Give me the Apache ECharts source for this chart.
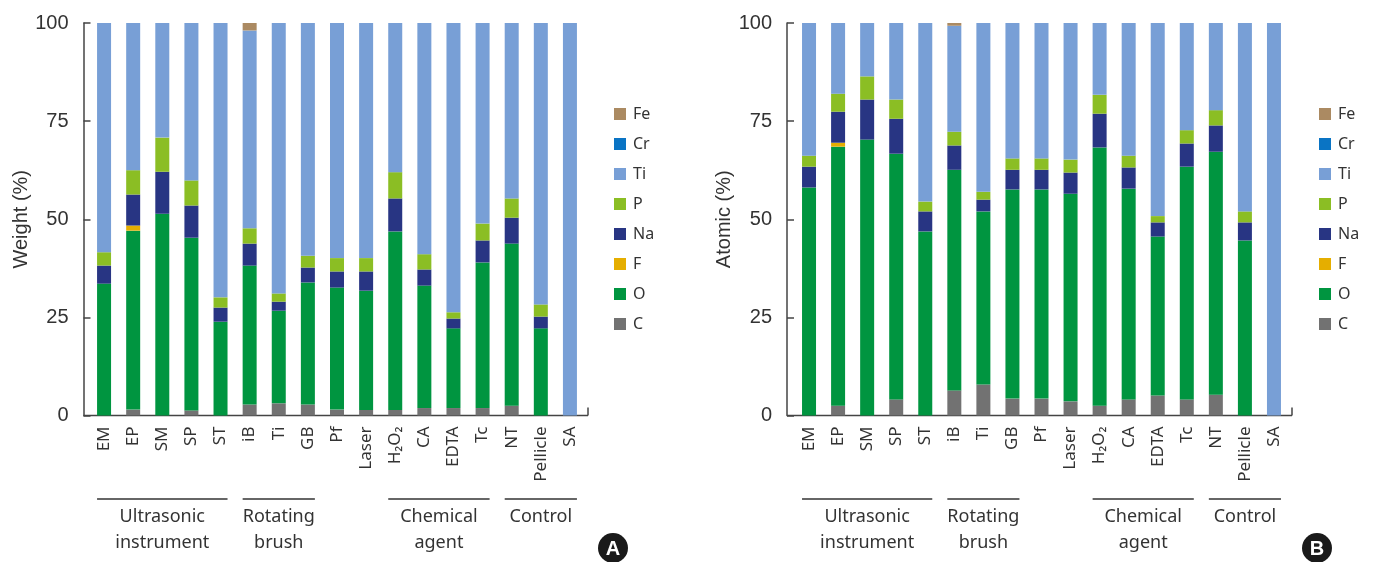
<!DOCTYPE html>
<html>
<head>
<meta charset="utf-8">
<script src="https://cdn.jsdelivr.net/npm/echarts@6/dist/echarts.min.js"></script>
<style>
html,body{margin:0;padding:0;background:#fff;}
#main{width:1377px;height:562px;}
</style>
</head>
<body>
<div id="main"></div>
<script>
const categories = ['EM','EP','SM','SP','ST','iB','Ti','GB','Pf','Laser','H\u2082O\u2082','CA','EDTA','Tc','NT','Pellicle','SA'];
const elements = ['C','O','F','Na','P','Ti','Cr','Fe'];           // stacking order, bottom to top
const legendOrder = ['Fe','Cr','Ti','P','Na','F','O','C'];
const yTicks = [0, 25, 50, 75, 100];

// Weight (%) — segment values per category
const weightC  = [0,   1.5, 0,   1.3, 0,   2.8, 3.1, 2.8, 1.5, 1.4, 1.4, 1.9, 1.9, 1.9, 2.5, 0,   0];
const weightO  = [33.6,45.6,51.4,44.0,23.9,35.4,23.6,31.1,31.1,30.4,45.5,31.2,20.3,37.1,41.3,22.2,0];
const weightF  = [0,   1.3, 0,   0,   0,   0,   0,   0,   0,   0,   0,   0,   0,   0,   0,   0,   0];
const weightNa = [4.6, 7.9, 10.7,8.2, 3.6, 5.6, 2.3, 3.8, 4.1, 4.9, 8.4, 4.1, 2.5, 5.6, 6.6, 3.0, 0];
const weightP  = [3.4, 6.2, 8.7, 6.4, 2.6, 3.9, 2.1, 3.0, 3.4, 3.4, 6.7, 3.9, 1.6, 4.3, 4.9, 3.1, 0];
const weightTi = [58.4,37.5,29.2,40.1,69.9,50.4,68.9,59.3,59.9,59.9,38.0,58.9,73.7,51.1,44.7,71.7,100];
const weightCr = [0,0,0,0,0,0,0,0,0,0,0,0,0,0,0,0,0];
const weightFe = [0,   0,   0,   0,   0,   1.9, 0,   0,   0,   0,   0,   0,   0,   0,   0,   0,   0];

// Atomic (%) — segment values per category
const atomicC  = [0,   2.5, 0,   4.1, 0,   6.4, 7.9, 4.3, 4.3, 3.6, 2.5, 4.1, 5.1, 4.1, 5.3, 0,   0];
const atomicO  = [58.1,66.0,70.3,62.6,46.9,56.2,44.1,53.3,53.3,52.9,65.8,53.7,40.5,59.3,61.9,44.6,0];
const atomicF  = [0,   1.0, 0,   0,   0,   0,   0,   0,   0,   0,   0,   0,   0,   0,   0,   0,   0];
const atomicNa = [5.3, 7.9, 10.2,8.9, 5.1, 6.2, 3.0, 5.0, 5.0, 5.4, 8.6, 5.4, 3.6, 5.9, 6.7, 4.6, 0];
const atomicP  = [2.8, 4.6, 5.9, 4.9, 2.5, 3.5, 2.0, 2.9, 2.9, 3.3, 4.8, 3.0, 1.6, 3.4, 3.9, 2.8, 0];
const atomicTi = [33.8,18.0,13.6,19.5,45.5,27.0,43.0,34.5,34.5,34.8,18.3,33.8,49.2,27.3,22.2,48.0,100];
const atomicCr = [0,0,0,0,0,0,0,0,0,0,0,0,0,0,0,0,0];
const atomicFe = [0,   0,   0,   0,   0,   0.7, 0,   0,   0,   0,   0,   0,   0,   0,   0,   0,   0];

const groups = [
  {label:'Ultrasonic\ninstrument', from:0,  to:4},
  {label:'Rotating\nbrush',        from:5,  to:7},
  {label:'Chemical\nagent',        from:10, to:13},
  {label:'Control',                from:14, to:16}
];

const colors = {Fe:'#ab8a62', Cr:'#0a74c4', Ti:'#789fd6', P:'#8bbe24', Na:'#283583', F:'#e5ae00', O:'#009540', C:'#727272'};

const weightData = {C:weightC,O:weightO,F:weightF,Na:weightNa,P:weightP,Ti:weightTi,Cr:weightCr,Fe:weightFe};
const atomicData = {C:atomicC,O:atomicO,F:atomicF,Na:atomicNa,P:atomicP,Ti:atomicTi,Cr:atomicCr,Fe:atomicFe};

const TXT = '#333333';
const AX = '#444444';
const GRID_TOP = 23, GRID_H = 392.5;
const panels = [
  {left:89.5, width:495, axisX0:83.5, axisX1:588, name:'Weight (%)', data:weightData, legendLeft:614, badge:'A', badgeX:613},
  {left:794.5, width:494, axisX0:787, axisX1:1292, name:'Atomic (%)', data:atomicData, legendLeft:1319, badge:'B', badgeX:1317}
];

const chart = echarts.init(document.getElementById('main'));

const option = {
  animation:false,
  backgroundColor:'#fff',
  grid: panels.map(p => ({left:p.left, width:p.width, top:GRID_TOP, height:GRID_H})),
  xAxis: panels.map((p,i) => ({
    type:'category', gridIndex:i, data:categories,
    axisLine:{show:false}, axisTick:{show:false},
    axisLabel:{rotate:90, fontSize:17, fontFamily:'Noto Sans', color:TXT, margin:11, interval:0}
  })),
  yAxis: panels.map((p,i) => ({
    type:'value', gridIndex:i, min:0, max:100, interval:25,
    offset: p.left - p.axisX0,
    name:p.name, nameLocation:'middle', nameGap:48,
    nameTextStyle:{fontSize:20, fontFamily:'Liberation Sans', color:TXT},
    axisLine:{show:true, lineStyle:{color:AX, width:1.5}},
    axisTick:{show:true, inside:true, length:7, lineStyle:{color:AX, width:1.5}},
    splitLine:{show:false},
    axisLabel:{fontSize:20, fontFamily:'Liberation Sans', color:TXT, margin:15,
      formatter: v => yTicks.includes(v) ? String(v) : ''}
  })),
  legend: panels.map(p => ({
    orient:'vertical', left:p.legendLeft, top:106, padding:0,
    data:legendOrder, icon:'rect', itemWidth:12, itemHeight:12, itemGap:14,
    selectedMode:false,
    textStyle:{fontSize:16, lineHeight:16, fontFamily:'Noto Sans', color:TXT, padding:[0,0,0,2]}
  })),
  series: []
};

panels.forEach((p,i) => {
  elements.forEach(el => {
    option.series.push({
      type:'bar', name:el, xAxisIndex:i, yAxisIndex:i, stack:'s'+i,
      data:p.data[el], barWidth:14,
      itemStyle:{color:colors[el]},
      emphasis:{disabled:true}
    });
  });
});

chart.setOption(option);

// Decorations: extended x axis lines, group brackets, group labels, badges
const g = [];
const axisY = GRID_TOP + GRID_H;
panels.forEach((p,i) => {
  g.push({type:'line', shape:{x1:p.axisX0, y1:axisY, x2:p.axisX1, y2:axisY}, style:{stroke:AX, lineWidth:1.5}, silent:true});
  g.push({type:'line', shape:{x1:p.axisX1, y1:axisY, x2:p.axisX1, y2:axisY-8}, style:{stroke:AX, lineWidth:1.5}, silent:true});
  groups.forEach(gr => {
    const xa = chart.convertToPixel({xAxisIndex:i}, gr.from) - 7;
    const xb = chart.convertToPixel({xAxisIndex:i}, gr.to) + 7;
    g.push({type:'line', shape:{x1:xa, y1:499, x2:xb, y2:499}, style:{stroke:'#333', lineWidth:1.5}, silent:true});
    g.push({type:'text', x:(xa+xb)/2, y:504, silent:true,
      style:{text:gr.label, fontSize:18, fontFamily:'Noto Sans', fill:TXT, align:'center', verticalAlign:'top', lineHeight:26}});
  });
  g.push({type:'circle', shape:{cx:p.badgeX, cy:548, r:15}, style:{fill:'#1a1a1a'}, silent:true});
  g.push({type:'text', x:p.badgeX, y:549, silent:true,
    style:{text:p.badge, fontSize:20, fontWeight:'bold', fontFamily:'Liberation Sans', fill:'#fff', align:'center', verticalAlign:'middle'}});
});
chart.setOption({graphic:g});
</script>
</body>
</html>
